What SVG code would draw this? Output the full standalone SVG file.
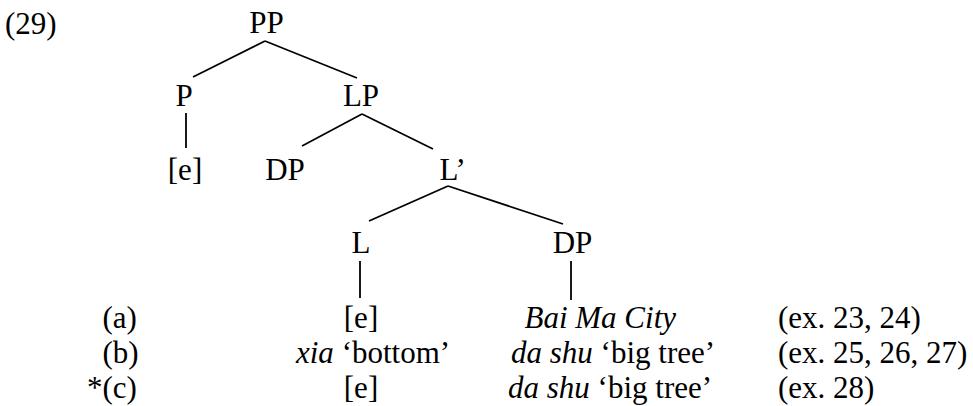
<svg xmlns="http://www.w3.org/2000/svg" width="973" height="406" viewBox="0 0 973 406">
<style>
text{font-family:"Liberation Serif","Times New Roman",serif;font-size:31px;fill:#000}
.m{text-anchor:middle}
.i{font-style:italic}
.e{stroke:#000;stroke-width:1.8;fill:none;stroke-linecap:butt}
</style>
<rect width="973" height="406" fill="#fff"/>
<text x="5" y="34">(29)</text>
<g id="connectors">
<line class="e" x1="265" y1="41" x2="193" y2="77"/>
<line class="e" x1="265" y1="41" x2="357" y2="78"/>
<line class="e" x1="186" y1="113" x2="186" y2="148"/>
<line class="e" x1="362" y1="114" x2="302" y2="146"/>
<line class="e" x1="362" y1="114" x2="433" y2="149"/>
<line class="e" x1="448" y1="186" x2="369" y2="221"/>
<line class="e" x1="448" y1="186" x2="563" y2="224"/>
<line class="e" x1="360" y1="261" x2="360" y2="298"/>
<line class="e" x1="571" y1="261" x2="571" y2="300"/>
</g>
<g id="n-PP"><text class="m" x="266.5" y="33">PP</text></g>
<g id="n-P"><text class="m" x="184" y="106">P</text></g>
<g id="n-LP"><text class="m" x="361" y="106">LP</text></g>
<g id="n-Pe"><text class="m" x="185" y="180">[e]</text></g>
<g id="n-DP1"><text class="m" x="285" y="180">DP</text></g>
<g id="n-Lbar"><text x="439.5" y="180">L’</text></g>
<g id="n-L"><text class="m" x="361" y="253">L</text></g>
<g id="n-DP2"><text class="m" x="572.5" y="253">DP</text></g>
<g id="row-a">
<text x="102.5" y="328">(a)</text>
<text class="m" x="361" y="328">[e]</text>
<text class="i" x="524.5" y="328">Bai Ma City</text>
<text x="778" y="328">(ex. 23, 24)</text>
</g>
<g id="row-b">
<text x="102.5" y="363">(b)</text>
<text x="296" y="363"><tspan class="i">xia</tspan> ‘bottom’</text>
<text x="511" y="363"><tspan class="i">da shu</tspan> ‘big tree’</text>
<text x="778" y="363">(ex. 25, 26, 27)</text>
</g>
<g id="row-c">
<text x="87" y="398">*(c)</text>
<text class="m" x="361" y="398">[e]</text>
<text x="508" y="398"><tspan class="i">da shu</tspan> ‘big tree’</text>
<text x="778" y="398">(ex. 28)</text>
</g>
</svg>
